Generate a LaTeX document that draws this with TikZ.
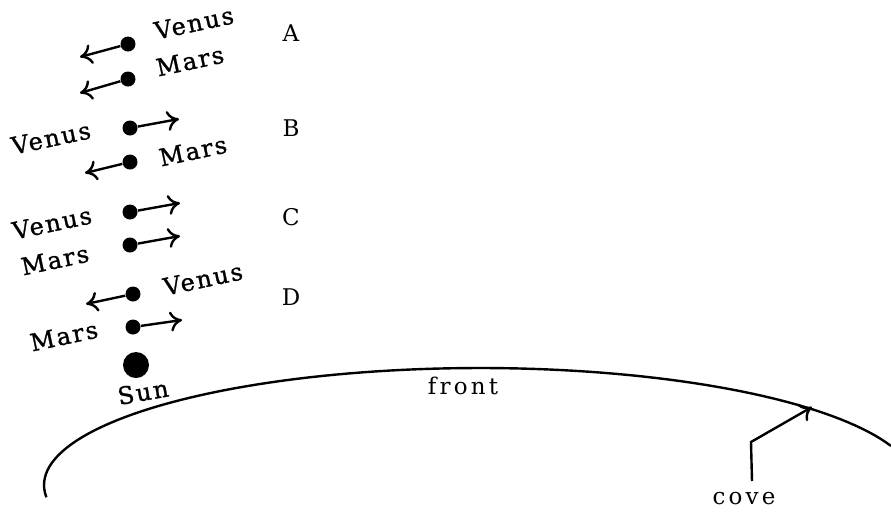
\documentclass[tikz,border=0pt]{standalone}
\usepackage{fontspec}
\setmainfont{DejaVu Serif}[LetterSpace=8]
\usetikzlibrary{arrows.meta}

\begin{document}
\begin{tikzpicture}[
		x=0.5pt, y=-0.5pt,
		planet/.style={circle, fill=black, inner sep=0pt, minimum size=7.5pt},
		sun/.style={circle, fill=black, inner sep=0pt, minimum size=13pt},
		motion/.style={line width=1.2pt, -{Computer Modern Rightarrow[length=6pt, width=10pt, line width=1.2pt]}},
		body/.style={font=\fontsize{12}{14}\selectfont\addfontfeature{FakeBold=1}, rotate=12, inner sep=0pt},
		case/.style={font=\fontsize{11.5}{14}\selectfont, inner sep=0pt},
		spaced/.style={font=\fontsize{11.5}{13}\selectfont\addfontfeature{LetterSpace=14}, inner sep=0pt}
		]
		\useasboundingbox (0,0) rectangle (891,511);
		
		% ==========================================
		% A: both moving left
		% ==========================================
		\node[planet] (va) at (128, 44) {};
		\node[planet] (ma) at (128, 79) {};
		\coordinate (va-to) at (80, 57);
		\coordinate (ma-to) at (80, 93);
		\draw[motion] (va) -- (va-to);
		\draw[motion] (ma) -- (ma-to);
		\node[body] (va-name) at (194, 23) {Venus};
		\node[body] (ma-name) at (190, 61) {Mars};
		\node[case] (A) at (291, 33) {A};
		
		% ==========================================
		% B: Venus right, Mars left
		% ==========================================
		\node[planet] (vb) at (130, 128) {};
		\node[planet] (mb) at (130, 162) {};
		\coordinate (vb-to) at (179, 119);
		\coordinate (mb-to) at (85, 173);
		\draw[motion] (vb) -- (vb-to);
		\draw[motion] (mb) -- (mb-to);
		\node[body] (vb-name) at (51, 138) {Venus};
		\node[body] (mb-name) at (193, 151) {Mars};
		\node[case] (B) at (291, 128) {B};
		
		% ==========================================
		% C: both moving right
		% ==========================================
		\node[planet] (vc) at (130, 212) {};
		\node[planet] (mc) at (130, 245) {};
		\coordinate (vc-to) at (180, 203);
		\coordinate (mc-to) at (180, 236);
		\draw[motion] (vc) -- (vc-to);
		\draw[motion] (mc) -- (mc-to);
		\node[body] (vc-name) at (52, 223) {Venus};
		\node[body] (mc-name) at (55, 260) {Mars};
		\node[case] (C) at (291, 217) {C};
		
		% ==========================================
		% D: Venus left, Mars right
		% ==========================================
		\node[planet] (vd) at (133, 294) {};
		\node[planet] (md) at (133, 327) {};
		\coordinate (vd-to) at (86, 304);
		\coordinate (md-to) at (182, 320);
		\draw[motion] (vd) -- (vd-to);
		\draw[motion] (md) -- (md-to);
		\node[body] (vd-name) at (203, 279) {Venus};
		\node[body] (md-name) at (64, 336) {Mars};
		\node[case] (D) at (291, 297) {D};
		
		% ==========================================
		% Sun and the front
		% ==========================================
		\node[sun] (sun) at (136, 365) {};
		\node[body, rotate=-2] (sun-name) at (143, 392) {Sun};
		
		\draw[line width=1.2pt] plot[domain=186:19.5, samples=90]
		({480+436*cos(\x)}, {485-117*sin(\x)});
		\node[spaced] (front) at (463, 386) {front};
		
		% cove pointer
		\node[spaced] (cove) at (744, 499) {cove};
		\coordinate (cove-foot) at (752, 481);
		\coordinate (cove-bend) at (751, 442);
		\coordinate (cove-tip) at (812, 407);
		\draw[motion] (cove-foot) -- (cove-bend) -- (cove-tip);
		
	\end{tikzpicture}
\end{document}
